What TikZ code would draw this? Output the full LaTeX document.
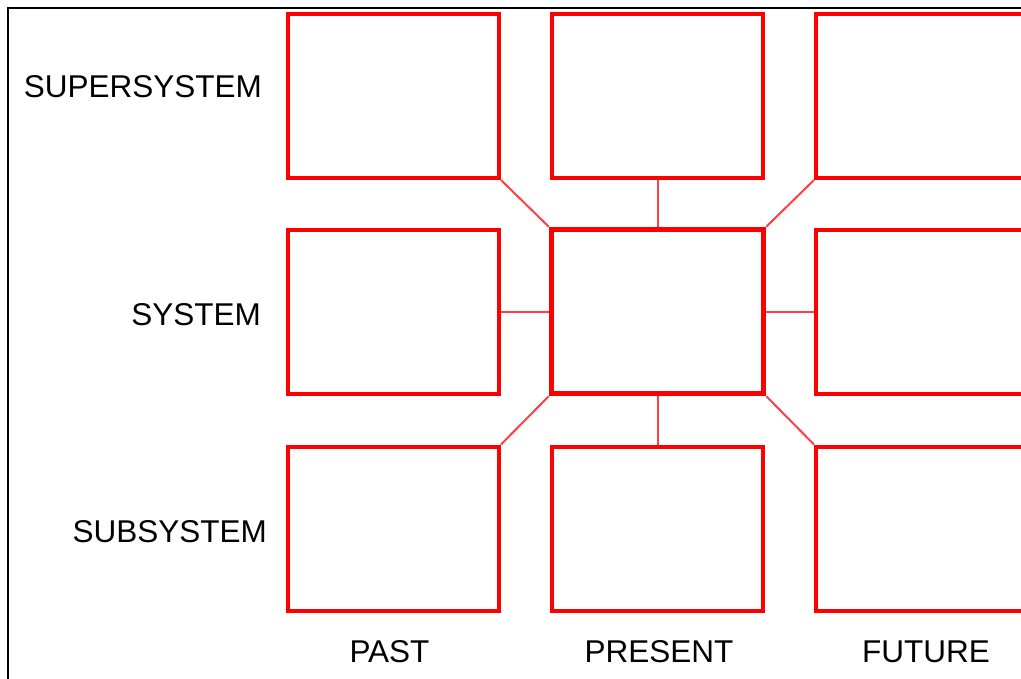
\documentclass[tikz,border=0pt]{standalone}
\usepackage{fontspec}
\setmainfont{Liberation Sans}
\usetikzlibrary{calc}
\newcommand{\labelsize}{\fontsize{31.5}{37}\selectfont}
\tikzset{frame/.style={color=#1,line width=4pt,minimum width=211pt,minimum height=164pt,inner sep=0pt},frame/.default=red}
\tikzset{core/.style={frame=#1,line width=5.5pt,minimum width=212pt},core/.default=red}
\tikzset{link/.style={draw=#1,line width=2pt},link/.default=red!75}
\tikzset{tag/.style={inner sep=0pt,font=\labelsize}}

\begin{document}
\begin{tikzpicture}[x=1pt,y=-1pt]

	% Area visivel e moldura
	\clip (0,0) rectangle (1021,678);
	\draw [line width=1.5pt] (8,700) -- (8,8) -- (1040,8);

	% Linha do supersistema
	\node [frame,draw] (sup past)    at (393.5,96) {};
	\node [frame,draw] (sup present) at (657.5,96) {};
	\node [frame,draw] (sup future)  at (921.5,96) {};

	% Linha do sistema
	\node [frame,draw] (sys past)    at (393.5,311.5) {};
	\node [core,draw]  (sys present) at (657.5,311.5) {};
	\node [frame,draw] (sys future)  at (921.5,311.5) {};

	% Linha do subsistema
	\node [frame,draw] (sub past)    at (393.5,528.5) {};
	\node [frame,draw] (sub present) at (657.5,528.5) {};
	\node [frame,draw] (sub future)  at (921.5,528.5) {};

	% Ligacoes a partir da caixa central
	\draw [link] (sys present.north west) -- (sup past.south east);
	\draw [link] (sys present.north)      -- (sup present.south);
	\draw [link] (sys present.north east) -- (sup future.south west);
	\draw [link] (sys present.west)       -- (sys past.east);
	\draw [link] (sys present.east)       -- (sys future.west);
	\draw [link] (sys present.south west) -- (sub past.north east);
	\draw [link] (sys present.south)      -- (sub present.north);
	\draw [link] (sys present.south east) -- (sub future.north west);

	% Rotulos das linhas
	\node [tag,anchor=east] (supersystem) at (262,87)  {SUPERSYSTEM};
	\node [tag,anchor=east] (system)      at (261,315) {SYSTEM};
	\node [tag,anchor=east] (subsystem)   at (267,532) {SUBSYSTEM};

	% Rotulos das colunas
	\node [tag] (past)    at (389.5,652) {PAST};
	\node [tag] (present) at (659,652)   {PRESENT};
	\node [tag] (future)  at (926,652)   {FUTURE};

\end{tikzpicture}
\end{document}
